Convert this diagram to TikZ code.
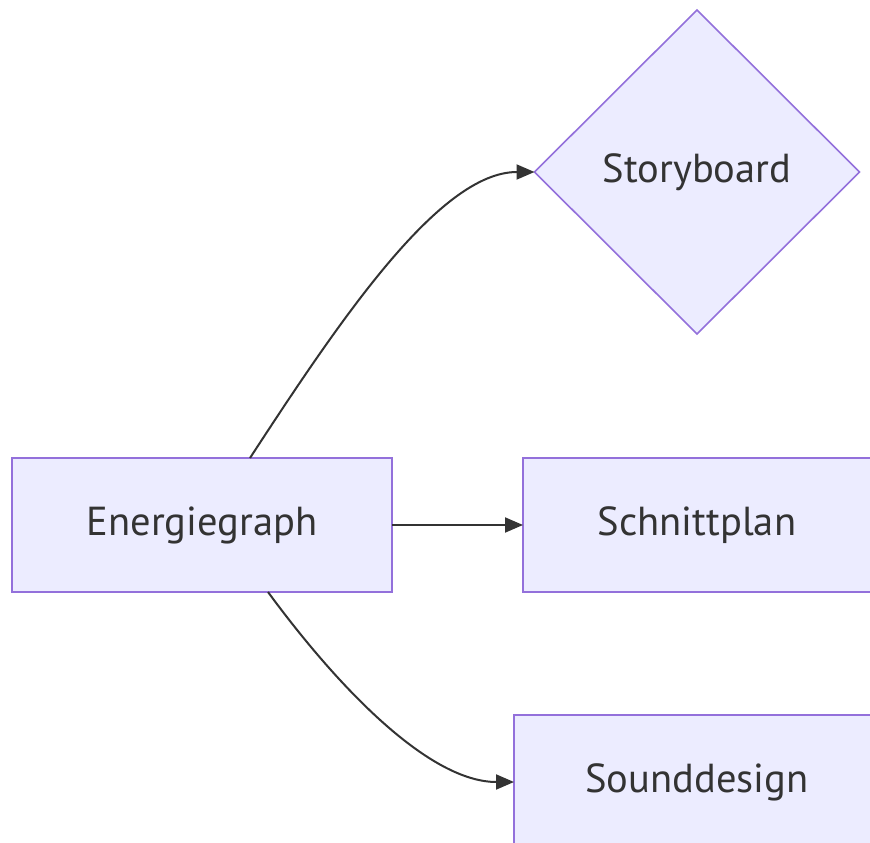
\documentclass[tikz,border=0pt]{standalone}
\usepackage{fontspec}
\setmainfont{PT Sans}
\usetikzlibrary{shapes.geometric,arrows.meta}
\definecolor{nodefill}{HTML}{ECECFF}
\definecolor{nodeline}{HTML}{9370DB}
\definecolor{textcol}{HTML}{333333}
\definecolor{edgecol}{HTML}{333333}
\tikzset{
  box/.style={draw=nodeline,fill=nodefill,line width=1.6pt,inner sep=0pt,outer sep=0pt,
    text=textcol,font=\fontsize{40.5}{46}\selectfont},
  dia/.style={box,diamond,aspect=1,minimum width=325pt,minimum height=324pt},
  conn/.style={draw=edgecol,line width=2pt,-{Triangle[length=18pt,width=15pt]}}
}
\begin{document}
\begin{tikzpicture}[x=1pt,y=-1pt]
\useasboundingbox (0,0) rectangle (870,843);
\node[dia] (SB) at (697,172) {Storyboard};
\node[box,minimum width=380pt,minimum height=134pt] (E) at (202,525) {Energiegraph};
\node[box,minimum width=348pt,minimum height=134pt] (SP) at (697,525) {Schnittplan};
\node[box,minimum width=366pt,minimum height=134pt] (SD) at (697,782) {Sounddesign};
\draw[conn] ([xshift=48pt]E.north) .. controls +(90,-138) and +(-95,0) .. (SB.west);
\draw[conn] (E.east) -- (SP.west);
\draw[conn] ([xshift=66pt]E.south) .. controls +(72,98) and +(-84,0) .. (SD.west);
\end{tikzpicture}
\end{document}
